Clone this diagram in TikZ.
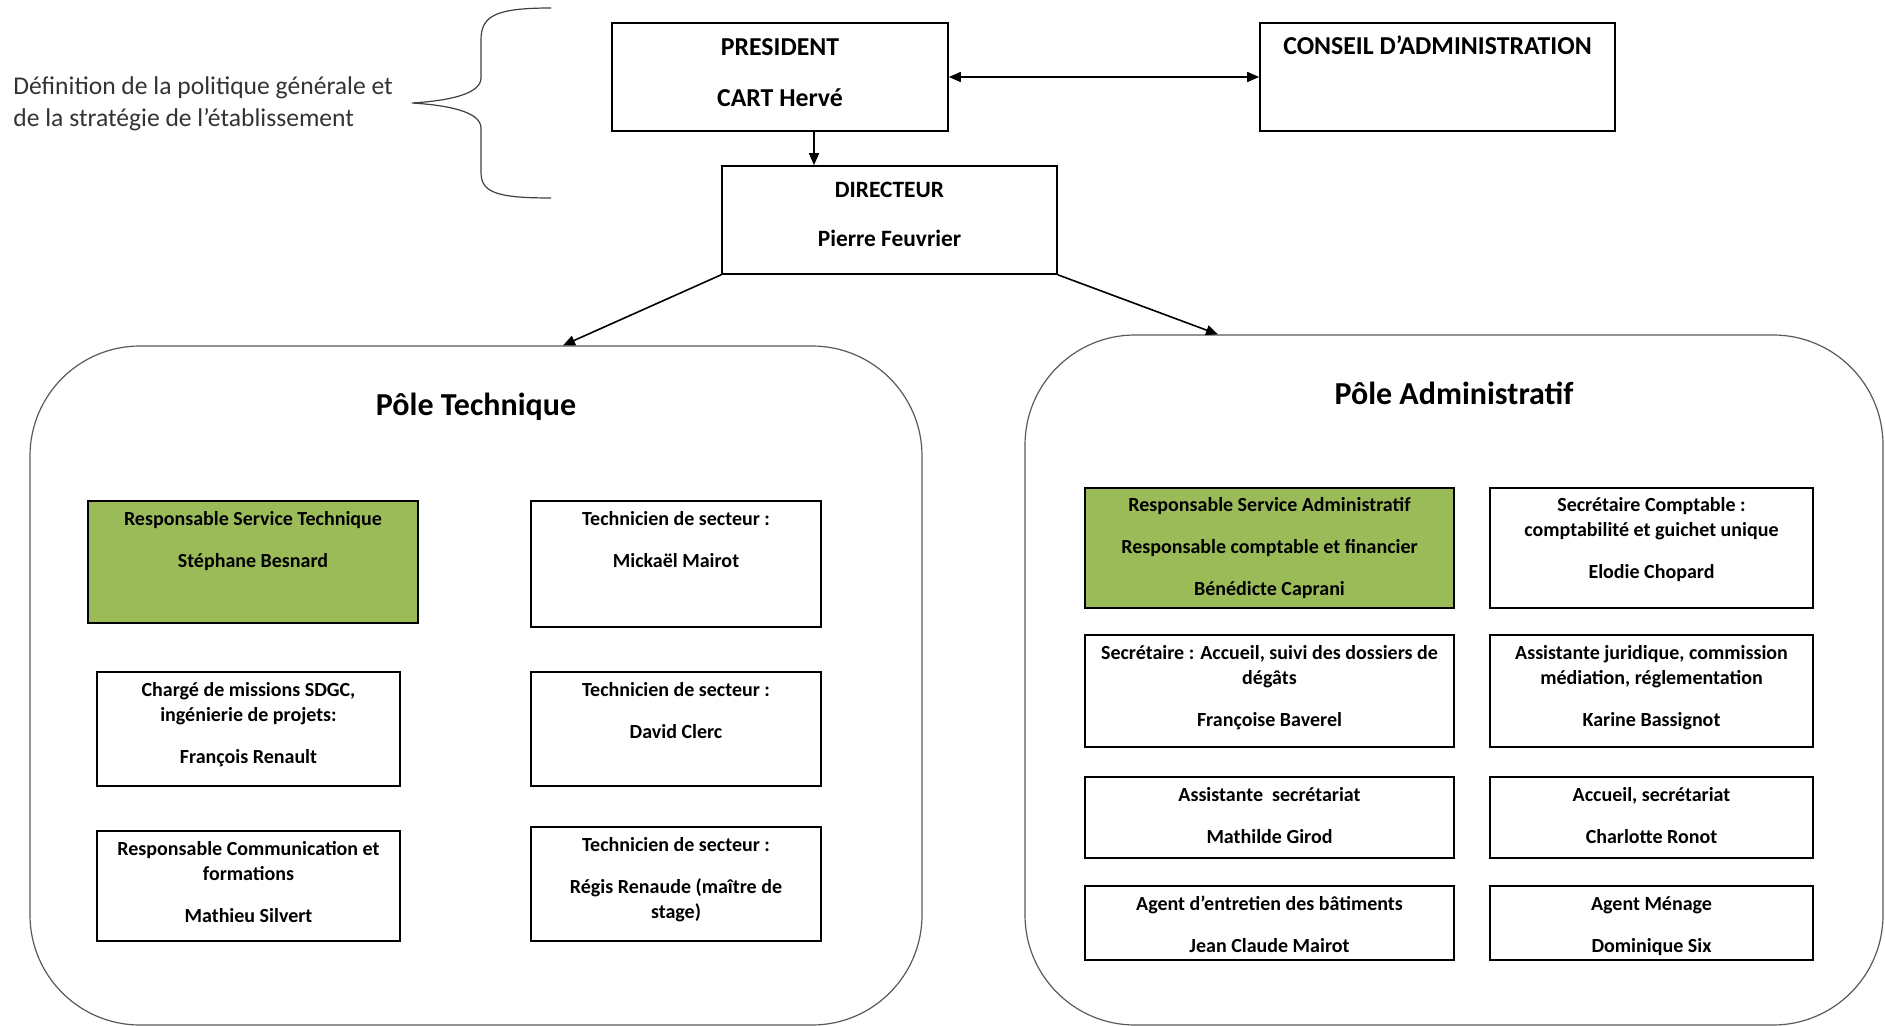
\documentclass[tikz,border=0pt]{standalone}
\usepackage{fontspec}
\setmainfont{Carlito}
\usetikzlibrary{arrows.meta,positioning}
\definecolor{vertpole}{HTML}{9BBB59}

\begin{document}
\begin{tikzpicture}[x=0.5pt,y=-0.5pt,
		>={Triangle[length=6pt,width=5pt]},
		pole/.style={draw=black!65, line width=0.6pt, rounded corners=55pt, inner sep=0pt},
		cadre/.style={draw, line width=0.8pt, inner sep=0pt},
		titre/.style={anchor=base, inner sep=0pt, font=\bfseries\fontsize{16}{19}\selectfont},
		haut/.style={anchor=base, align=center, inner sep=0pt, font=\bfseries\fontsize{12.9}{15}\selectfont},
		texte/.style={anchor=base, align=center, inner sep=0pt, font=\bfseries\fontsize{10}{12.5}\selectfont},
		fleche/.style={->, line width=0.8pt}]
	\useasboundingbox (0,0) rectangle (1885,1026);

	% niveau direction (anchor base = derniere ligne)
	\node[cadre, minimum width=168pt, minimum height=54pt] (pres) at (780,77) {};
	\node[haut] (pres-t) at ([yshift=-42.25pt]pres.north) {PRESIDENT\\[10.5pt]CART Hervé};
	\node[cadre, minimum width=177.5pt, minimum height=54pt] (conseil) at (1437.5,77) {};
	\node[haut] (conseil-t) at ([yshift=-16pt]conseil.north) {CONSEIL D’ADMINISTRATION};
	\node[cadre, minimum width=167.5pt, minimum height=54pt] (dir) at (889.5,220) {};
	\node[haut, font=\bfseries\fontsize{11.7}{14}\selectfont] (dir-t) at ([yshift=-40.5pt]dir.north) {DIRECTEUR\\[10.5pt]Pierre Feuvrier};

	% accolade et commentaire
	\draw[black!75, line width=0.6pt] (551,8) .. controls (495,8) and (481,16) .. (481,40) -- (481,78)
		.. controls (481,95) and (445,101) .. (412,103) .. controls (445,105) and (481,111) .. (481,128)
		-- (481,172) .. controls (481,192) and (495,198) .. (551,198);
	\node[anchor=base west, align=left, inner sep=0pt, text=black!80, font=\fontsize{12.8}{16}\selectfont] (def) at (13,127)
		{Définition de la politique générale et\\de la stratégie de l’établissement};

	% les deux poles
	\node[pole, minimum width=446pt, minimum height=339.5pt] (tech) at (476,685.5) {};
	\node[titre] (tech-t) at ([yshift=-35pt]tech.north) {Pôle Technique};
	\node[pole, minimum width=429pt, minimum height=345pt] (admin) at (1454,680) {};
	\node[titre] (admin-t) at ([yshift=-35pt]admin.north) {Pôle Administratif};

	% fleches
	\draw[fleche] ([xshift=17pt]pres.south) -- ([xshift=17pt]pres.south |- dir.north);
	\draw[fleche, <->] (pres) -- (conseil);
	\draw[fleche] (dir.south west) -- ([xshift=43.5pt]tech.north);
	\draw[fleche] (dir.south east) -- ([xshift=-118pt]admin.north);

	% pole technique
	\node[cadre, fill=vertpole, minimum width=165pt, minimum height=61pt] (rst) at (253,562) {};
	\node[texte] (rst-t) at ([yshift=-33.5pt]rst.north) {Responsable Service Technique\\[8.5pt]Stéphane Besnard};
	\node[cadre, minimum width=145pt, minimum height=63pt] (tech1) at (676,564) {};
	\node[texte] (tech1-t) at ([yshift=-33.5pt]tech1.north) {Technicien de secteur :\\[8.5pt]Mickaël Mairot};
	\node[cadre, minimum width=151.5pt, minimum height=57pt] (charge) at (248.5,729) {};
	\node[texte] (charge-t) at ([yshift=-46pt]charge.north) {Chargé de missions SDGC,\\ingénierie de projets:\\[8.5pt]François Renault};
	\node[cadre, minimum width=145pt, minimum height=57pt] (tech2) at (676,729) {};
	\node[texte] (tech2-t) at ([yshift=-33.5pt]tech2.north) {Technicien de secteur :\\[8.5pt]David Clerc};
	\node[cadre, minimum width=151.5pt, minimum height=55pt] (comm) at (248.5,886) {};
	\node[texte] (comm-t) at ([yshift=-46pt]comm.north) {Responsable Communication et\\formations\\[8.5pt]Mathieu Silvert};
	\node[cadre, minimum width=145pt, minimum height=57pt] (tech3) at (676,884) {};
	\node[texte] (tech3-t) at ([yshift=-46pt]tech3.north) {Technicien de secteur :\\[8.5pt]Régis Renaude (maître de\\stage)};

	% pole administratif
	\node[cadre, fill=vertpole, minimum width=184.5pt, minimum height=60pt] (rsa) at (1269.5,548) {};
	\node[texte] (rsa-t) at ([yshift=-54pt]rsa.north) {Responsable Service Administratif\\[8.5pt]Responsable comptable et financier\\[8.5pt]Bénédicte Caprani};
	\node[cadre, minimum width=161.5pt, minimum height=60pt] (compta) at (1651.5,548) {};
	\node[texte] (compta-t) at ([yshift=-45.5pt]compta.north) {Secrétaire Comptable :\\comptabilité et guichet unique\\[8.5pt]Elodie Chopard};
	\node[cadre, minimum width=184.5pt, minimum height=56pt] (secr) at (1269.5,691) {};
	\node[texte] (secr-t) at ([yshift=-46pt]secr.north) {Secrétaire : Accueil, suivi des dossiers de\\dégâts\\[8.5pt]Françoise Baverel};
	\node[cadre, minimum width=161.5pt, minimum height=56pt] (jur) at (1651.5,691) {};
	\node[texte] (jur-t) at ([yshift=-46pt]jur.north) {Assistante juridique, commission\\médiation, réglementation\\[8.5pt]Karine Bassignot};
	\node[cadre, minimum width=184.5pt, minimum height=40.5pt] (asst) at (1269.5,817.5) {};
	\node[texte] (asst-t) at ([yshift=-33.5pt]asst.north) {Assistante\ \ secrétariat\\[8.5pt]Mathilde Girod};
	\node[cadre, minimum width=161.5pt, minimum height=40.5pt] (accueil) at (1651.5,817.5) {};
	\node[texte] (accueil-t) at ([yshift=-33.5pt]accueil.north) {Accueil, secrétariat\\[8.5pt]Charlotte Ronot};
	\node[cadre, minimum width=184.5pt, minimum height=37pt] (entretien) at (1269.5,923) {};
	\node[texte] (entretien-t) at ([yshift=-33.5pt]entretien.north) {Agent d’entretien des bâtiments\\[8.5pt]Jean Claude Mairot};
	\node[cadre, minimum width=161.5pt, minimum height=37pt] (menage) at (1651.5,923) {};
	\node[texte] (menage-t) at ([yshift=-33.5pt]menage.north) {Agent Ménage\\[8.5pt]Dominique Six};
\end{tikzpicture}
\end{document}
